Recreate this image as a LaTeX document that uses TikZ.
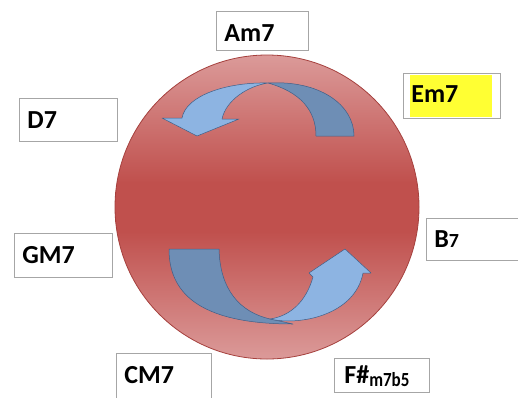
\documentclass[tikz,border=0pt]{standalone}
\usepackage{fontspec}
\setmainfont{Carlito}
\usepackage{graphicx}
\usepackage{xcolor}

\definecolor{circred}{HTML}{C0504D}
\definecolor{circpink}{HTML}{DB9A99}
\definecolor{circedge}{HTML}{A5403D}
\definecolor{arrlight}{HTML}{8DB4E2}
\definecolor{arrdark}{HTML}{6E8EB5}
\definecolor{arredge}{HTML}{3F5F88}
\definecolor{boxedge}{HTML}{A6A6A6}
\definecolor{hlyellow}{HTML}{FFFF33}

\pgfdeclareverticalshading{ballshade}{100bp}{color(0bp)=(circpink); color(25bp)=(circpink);
  color(46bp)=(circred); color(54bp)=(circred); color(75bp)=(circpink); color(100bp)=(circpink)}

\newcommand{\smallsub}[1]{\fontsize{20}{20}\selectfont #1}

\begin{document}
\begin{tikzpicture}[x=1pt,y=-1pt]
  \tikzset{ chord/.style n args={3}{draw=boxedge,line width=0.8pt,anchor=north west,inner xsep=8pt,inner ysep=0pt,
      align=left,text width=#1,text height=#2,text depth=#3,font=\fontsize{26}{26}\selectfont\bfseries},
    band/.style={draw=arredge,line width=0.5pt,line join=round},
  }
  \useasboundingbox (0,0) rectangle (518,397);

  % the circle
  \shadedraw[shading=ballshade,draw=circedge,line width=0.8pt] (267,207) circle (152pt);

  % upper arrow
  \coordinate (T) at (268,83);
  \filldraw[band,fill=arrdark] (T) .. controls (320,80) and (354,105) .. (354,136) -- (316,136)
    .. controls (316,110) and (300,92) .. (T) -- cycle;
  \filldraw[band,fill=arrlight] (T) .. controls (228,82) and (186,95) .. (182,118) -- (162,118)
    -- (197,136) -- (239,119) -- (222,119) .. controls (226,100) and (248,86) .. (T) -- cycle;

  % lower arrow
  \coordinate (C) at (270,319);
  \filldraw[band,fill=arrdark] (169,249) -- (219,249) .. controls (220,290) and (240,312) .. (C)
    -- (293,324) .. controls (195,324) and (169,290) .. (169,249) -- cycle;
  \filldraw[band,fill=arrlight] (C) .. controls (300,326) and (355,315) .. (363,273) -- (371,273)
    -- (345,249) -- (309,273) -- (313,277) .. controls (306,302) and (290,316) .. (C) -- cycle;

  % chords
  \fill[hlyellow] (410,75) rectangle (492,117);
  \node[chord={76pt}{30pt}{9pt}] (Am) at (216,11) {Am7};
  \node[chord={81pt}{29pt}{16pt}] (Em) at (403,73) {Em7};
  \node[chord={82pt}{30pt}{13pt},fill=white] (D) at (19,98) {D7};
  \node[chord={82pt}{30pt}{14pt},fill=white] (GM) at (14,233) {GM7};
  \node[chord={84pt}{29pt}{13pt},fill=white] (B) at (426,218) {B{\smallsub{7}}};
  \node[chord={79pt}{30pt}{30pt},fill=white] (CM) at (116,353) {CM7};
  \node[chord={75pt}{25pt}{9pt},fill=white,inner xsep=10pt] (Fs) at (334,358)
    {F\#\raisebox{-3pt}{\scalebox{0.85}[1]{\smallsub{m7b5}}}};
\end{tikzpicture}
\end{document}
